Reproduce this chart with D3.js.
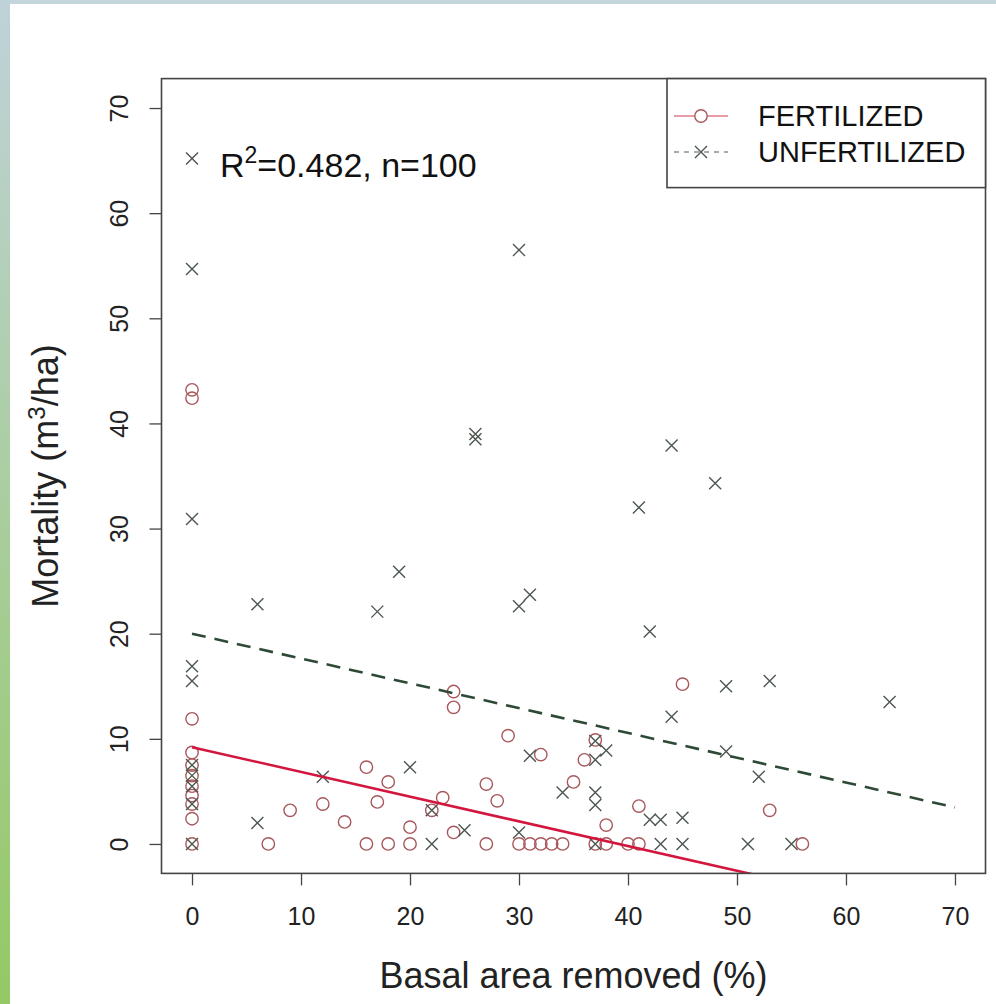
<!DOCTYPE html>
<html>
<head>
<meta charset="utf-8">
<script src="https://cdn.jsdelivr.net/npm/d3@7"></script>
<style>
  body { margin: 0; background: #fff; }
  svg { display: block; font-family: "Liberation Sans", Arial, sans-serif; }
</style>
</head>
<body>
<svg width="996" height="1004"></svg>
<script>
// fertilized plots (circles)
const fertX = [0,0,0,0,0,0,0,0,0,0,0, 7,9,12,14,16,16,17,18,18,20,20,22,23,24,24,24,27,27,28,29,30,31,32,32,33,34,35,36,37,37,38,38,40,41,41,45,53,56];
const fertY = [43.2,42.4,11.9,8.7,7.5,6.5,5.5,4.6,3.8,2.4,0, 0,3.2,3.8,2.1,7.3,0,4.0,5.9,0,1.6,0,3.2,4.4,14.5,13.0,1.1,5.7,0,4.1,10.3,0,0,8.5,0,0,0,5.9,8.0,9.9,0,1.8,0,0,3.6,0,15.2,3.2,0];

// unfertilized plots (crosses)
const unfertX = [0,0,0,0,0,0,0,0,0,0, 6,6,12,17,19,20,22,22,25,26,26,30,30,30,31,31,34,37,37,37,37,37,38,41,42,42,43,43,44,44,45,45,48,49,49,51,52,53,55,64];
const unfertY = [65.2,54.7,30.9,16.9,15.5,7.5,6.5,5.5,3.8,0, 22.8,2.0,6.4,22.1,25.9,7.3,3.2,0,1.3,39.0,38.5,56.5,22.6,1.1,23.7,8.4,4.9,9.8,8.0,4.9,3.7,0,8.9,32.0,20.2,2.3,2.3,0,37.9,12.1,2.5,0,34.3,15.0,8.8,0,6.4,15.5,0,13.5];

// fitted lines: [intercept, slope]
const fertFit = [9.2, -0.235];
const unfertFit = [20.0, -0.236];
const fitRange = [0, 70];

const xTicks = [0,10,20,30,40,50,60,70];
const yTicks = [0,10,20,30,40,50,60,70];
const legendLabels = ["FERTILIZED", "UNFERTILIZED"];

const colFert = "#a8585c";
const colUnfert = "#4c574f";
const colFertLine = "#d3163e";
const colUnfertLine = "#2e4a36";

let svg = d3.select("svg");

// page frame
let grad = svg.append("defs").append("linearGradient")
    .attr("id", "side").attr("x1", 0).attr("y1", 0).attr("x2", 0).attr("y2", 1);
grad.append("stop").attr("offset", "0%").attr("stop-color", "#bfd2d9");
grad.append("stop").attr("offset", "100%").attr("stop-color", "#94c965");
svg.append("rect").attr("x", 0).attr("y", 0).attr("width", 996).attr("height", 4).attr("fill", "#c2d5db");
svg.append("rect").attr("x", 0).attr("y", 0).attr("width", 10).attr("height", 1004).attr("fill", "url(#side)");

const area = { left: 161.5, right: 985.5, top: 78.6, bottom: 873.4 };

const scX = d3.scaleLinear().domain([-2.8, 72.8]).range([area.left, area.right]);
const scY = d3.scaleLinear().domain([-2.8, 72.8]).range([area.bottom, area.top]);

// axes (R style: outward ticks, no domain line)
let axX = svg.append("g")
    .attr("transform", `translate(0, ${area.bottom})`)
    .call(d3.axisBottom(scX).tickValues(xTicks).tickSize(12).tickPadding(22));
axX.select(".domain").remove();
axX.selectAll("line").attr("stroke", "#444").attr("stroke-width", 1.3);
axX.selectAll("text").style("font-size", "25px").attr("fill", "#222")
   .style("font-family", "'Liberation Sans', Arial, sans-serif");

let axY = svg.append("g")
    .attr("transform", `translate(${area.left}, 0)`)
    .call(d3.axisLeft(scY).tickValues(yTicks).tickSize(12));
axY.select(".domain").remove();
axY.selectAll("line").attr("stroke", "#444").attr("stroke-width", 1.3);
axY.selectAll("text")
   .attr("x", null).attr("dy", null)
   .attr("text-anchor", "middle")
   .attr("transform", "translate(-34, 0) rotate(-90)")
   .style("font-size", "25px").attr("fill", "#222")
   .style("font-family", "'Liberation Sans', Arial, sans-serif");

// titles
svg.append("text")
   .attr("x", (area.left + area.right) / 2).attr("y", 988)
   .attr("text-anchor", "middle").style("font-size", "36px").attr("fill", "#222")
   .text("Basal area removed (%)");

let yt = svg.append("text")
   .attr("transform", `translate(58, ${(area.top + area.bottom) / 2}) rotate(-90)`)
   .attr("text-anchor", "middle").style("font-size", "36px").attr("fill", "#222");
yt.append("tspan").text("Mortality (m");
yt.append("tspan").attr("dy", -13).style("font-size", "24px").text("3");
yt.append("tspan").attr("dy", 13).text("/ha)");

// clip for plot region
svg.append("clipPath").attr("id", "plotClip").append("rect")
   .attr("x", area.left).attr("y", area.top)
   .attr("width", area.right - area.left).attr("height", area.bottom - area.top);

let plot = svg.append("g");

function drawCircles(g, xs, ys, color) {
    g.selectAll(".c").data(xs.map((x, i) => [x, ys[i]])).enter()
     .append("circle")
     .attr("cx", d => scX(d[0])).attr("cy", d => scY(d[1]))
     .attr("r", 6.2)
     .attr("fill", "none").attr("stroke", color).attr("stroke-width", 1.4);
}

function crossPath(cx, cy, s) {
    return `M${cx - s},${cy - s}L${cx + s},${cy + s}M${cx - s},${cy + s}L${cx + s},${cy - s}`;
}

function drawCrosses(g, xs, ys, color) {
    g.selectAll(".x").data(xs.map((x, i) => [x, ys[i]])).enter()
     .append("path")
     .attr("d", d => crossPath(scX(d[0]), scY(d[1]), 6))
     .attr("fill", "none").attr("stroke", color).attr("stroke-width", 1.4);
}

drawCircles(plot, fertX, fertY, colFert);
drawCrosses(plot, unfertX, unfertY, colUnfert);

function drawFit(fit, color, dash) {
    let pts = fitRange.map(x => [x, fit[0] + fit[1] * x]);
    svg.append("path")
       .attr("clip-path", "url(#plotClip)")
       .attr("d", d3.line().x(d => scX(d[0])).y(d => scY(d[1]))(pts))
       .attr("fill", "none").attr("stroke", color).attr("stroke-width", 2.6)
       .attr("stroke-dasharray", dash);
}

drawFit(fertFit, colFertLine, null);
drawFit(unfertFit, colUnfertLine, "14,9");

// box
svg.append("rect")
   .attr("x", area.left).attr("y", area.top)
   .attr("width", area.right - area.left).attr("height", area.bottom - area.top)
   .attr("fill", "none").attr("stroke", "#444").attr("stroke-width", 1.6);

// R² annotation
let note = svg.append("text").attr("x", 220).attr("y", 177)
   .style("font-size", "34px").attr("fill", "#111");
note.append("tspan").text("R");
note.append("tspan").attr("dy", -14).style("font-size", "23px").text("2");
note.append("tspan").attr("dy", 14).text("=0.482, n=100");

// legend
svg.append("rect")
   .attr("x", 667).attr("y", area.top)
   .attr("width", area.right - 667).attr("height", 109)
   .attr("fill", "#fff").attr("stroke", "#444").attr("stroke-width", 1.6);

const legY = [116, 152];
legendLabels.forEach((lab, i) => {
    let y = legY[i];
    svg.append("line").attr("x1", 674).attr("x2", 728).attr("y1", y).attr("y2", y)
       .attr("stroke", i === 0 ? "#e0788a" : "#8a948c").attr("stroke-width", 1.4)
       .attr("stroke-dasharray", i === 0 ? null : "5,5");
    if (i === 0) {
        svg.append("circle").attr("cx", 701).attr("cy", y).attr("r", 6.2)
           .attr("fill", "#fff").attr("stroke", colFert).attr("stroke-width", 1.4);
    } else {
        svg.append("path").attr("d", crossPath(701, y, 6))
           .attr("stroke", colUnfert).attr("stroke-width", 1.4);
    }
    svg.append("text").attr("x", 758).attr("y", y).attr("dy", "0.36em")
       .style("font-size", "29px").attr("fill", "#111").text(lab);
});
</script>
</body>
</html>
